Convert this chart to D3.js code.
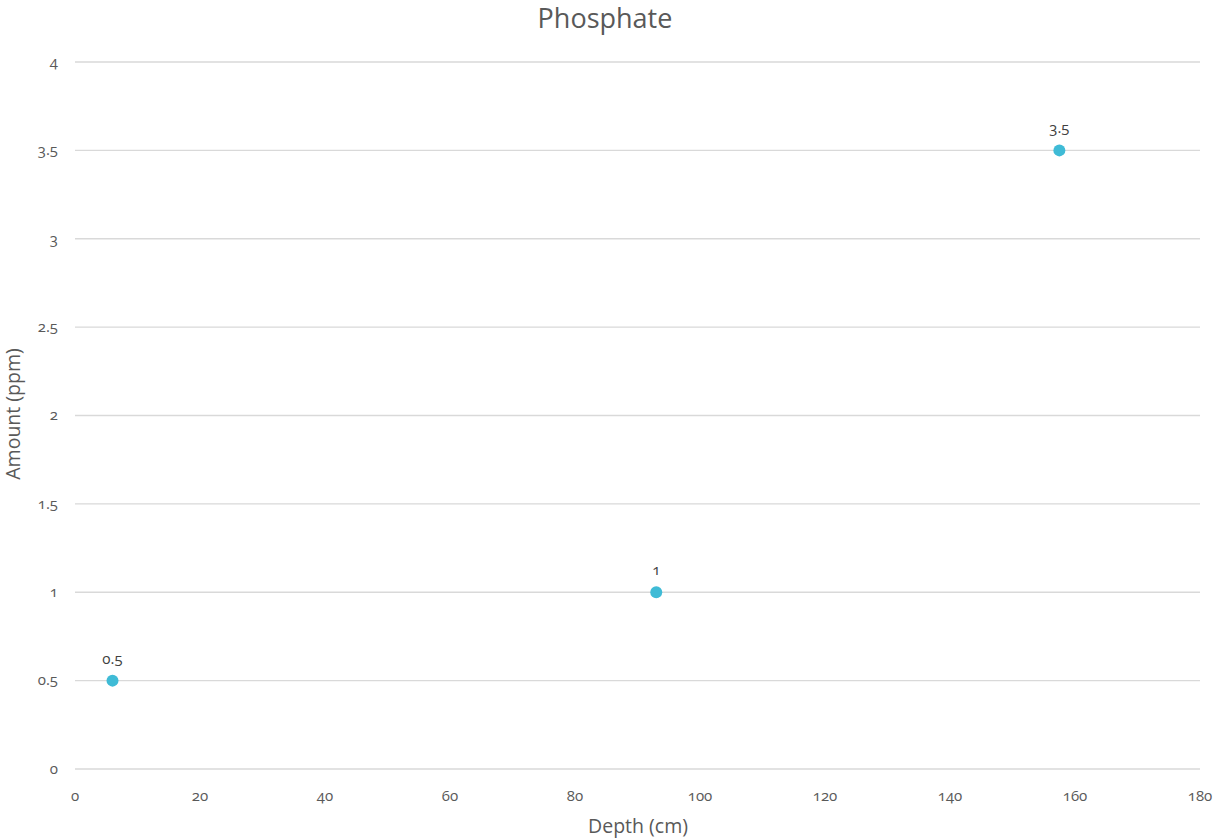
<!DOCTYPE html>
<html><head><meta charset="utf-8">
<script src="https://cdn.jsdelivr.net/npm/d3@7"></script>
<style>
body{margin:0;background:#fff;}
svg text{font-family:"Open Sans","Noto Sans",sans-serif;fill:#595959;}
.num{font-variant-numeric:oldstyle-nums;font-feature-settings:"onum" 1;}
</style></head>
<body><svg id="c" width="1215" height="839"></svg>
<script>
const depth = [6, 93, 157.5];
const amount = [0.5, 1, 3.5];
const labels = ["0.5", "1", "3.5"];
const xTicks = [0,20,40,60,80,100,120,140,160,180];
const yTicks = [0,0.5,1,1.5,2,2.5,3,3.5,4];
const title = "Phosphate";
const xTitle = "Depth (cm)";
const yTitle = "Amount (ppm)";

const svg = d3.select("#c");
const m = {l:75, r:1200, t:62, b:769};
const x = d3.scaleLinear().domain([0,180]).range([m.l, m.r]);
const y = d3.scaleLinear().domain([0,4]).range([m.b, m.t]);

svg.append("g").selectAll("line").data(yTicks).join("line")
  .attr("x1", m.l).attr("x2", m.r)
  .attr("y1", d=>y(d)).attr("y2", d=>y(d))
  .attr("stroke", "#d9d9d9").attr("stroke-width", 1.3);

svg.append("g").selectAll("text").data(yTicks).join("text").attr("class","num")
  .attr("x", 58).attr("y", d=>y(d)).attr("dy","0.32em")
  .attr("text-anchor","end").attr("font-size","15px").text(d=>String(d));

svg.append("g").selectAll("text").data(xTicks).join("text").attr("class","num")
  .attr("x", d=>x(d)).attr("y", 801)
  .attr("text-anchor","middle").attr("font-size","15px").text(d=>String(d));

svg.append("g").selectAll("circle").data(depth).join("circle")
  .attr("cx", d=>x(d)).attr("cy", (d,i)=>y(amount[i])).attr("r", 6)
  .attr("fill", "#3fbbd6");

svg.append("g").selectAll("text").data(depth).join("text").attr("class","num")
  .attr("x", d=>x(d)).attr("y", (d,i)=>y(amount[i]) - 17)
  .attr("text-anchor","middle").attr("font-size","15px")
  .style("fill","#404040").text((d,i)=>labels[i]);

svg.append("text").attr("x", 605).attr("y", 28).attr("text-anchor","middle")
  .attr("font-size","27px").text(title);
svg.append("text").attr("x", 638).attr("y", 833).attr("text-anchor","middle")
  .attr("font-size","19.5px").text(xTitle);
svg.append("text").attr("transform","translate(20,414) rotate(-90)")
  .attr("text-anchor","middle").attr("font-size","19.5px").text(yTitle);
</script></body></html>
